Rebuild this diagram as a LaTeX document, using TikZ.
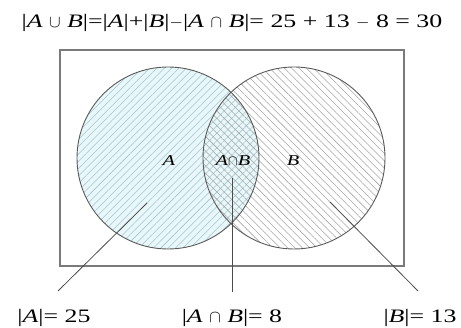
\documentclass[tikz,border=0pt]{standalone}
\usepackage{fontspec}
\setmainfont{Liberation Serif}
\newfontfamily\wide[FakeStretch=1.36]{Liberation Serif}
\usetikzlibrary{patterns.meta, positioning}

\definecolor{rimgray}{HTML}{5A5A5A}
\definecolor{boxgray}{HTML}{7A7A7A}
\definecolor{hatchA}{HTML}{A8C4CC}
\definecolor{hatchB}{HTML}{A6A6A6}
\definecolor{fillA}{HTML}{E8F7F9}

\newcommand{\va}{\textit{A}}
\newcommand{\vb}{\textit{B}}

\tikzset{
  setA/.style={circle, minimum size=182pt, inner sep=0pt, preaction={fill=fillA},
    pattern={Lines[angle=45, distance=5.2pt, line width=0.55pt]}, pattern color=hatchA},
  setB/.style={circle, minimum size=182pt, inner sep=0pt,
    pattern={Lines[angle=-45, distance=5.2pt, line width=0.55pt]}, pattern color=hatchB},
  rim/.style={draw=rimgray, line width=0.9pt},
  pointer/.style={draw=black!70, line width=0.8pt},
  count/.style={font=\wide\fontsize{19}{22}\selectfont, anchor=base, inner sep=0pt},
  inner/.style={font=\wide\fontsize{15}{17}\selectfont, anchor=base, inner sep=0pt},
}

\begin{document}
\begin{tikzpicture}[x=1pt, y=-1pt]
    \useasboundingbox (0,0) rectangle (461,328);
    % formula
    \node[count] (sum) at (232,28) {|\va\ $\cup$ \vb|=|\va|+|\vb|$-$|\va\ $\cap$ \vb|= 25 + 13 $-$ 8 = 30};
    % universe
    \node[draw=boxgray, line width=1.2pt, minimum width=344pt, minimum height=216pt] (U) at (232,158) {};
    % sets
    \node[setA] (A) at (168,158) {};
    \node[setB] (B) at (294,158) {};
    \draw[rim] (168,158) circle (91pt);
    \draw[rim] (294,158) circle (91pt);
    \node[inner] at (169,166) (lA) {\va};
    \node[inner] at (293,166) (lB) {\vb};
    \node[inner] at (233,166) (lAB) {\va$\cap$\vb};
    % counts
    \node[count] (nA) at (54,323) {|\va|= 25};
    \node[count] (nAB) at (232,323) {|\va\ $\cap$ \vb|= 8};
    \node[count] (nB) at (420,323) {|\vb|= 13};
    \coordinate (tA) at (147,203);
    \coordinate (tAB) at (232,178);
    \coordinate (tB) at (330,202);
    \coordinate (eA) at (58,291);
    \coordinate (eAB) at (232,292);
    \coordinate (eB) at (418,291);
    \draw[pointer] (tA) -- (eA);
    \draw[pointer] (tAB) -- (eAB);
    \draw[pointer] (tB) -- (eB);
\end{tikzpicture}
\end{document}
